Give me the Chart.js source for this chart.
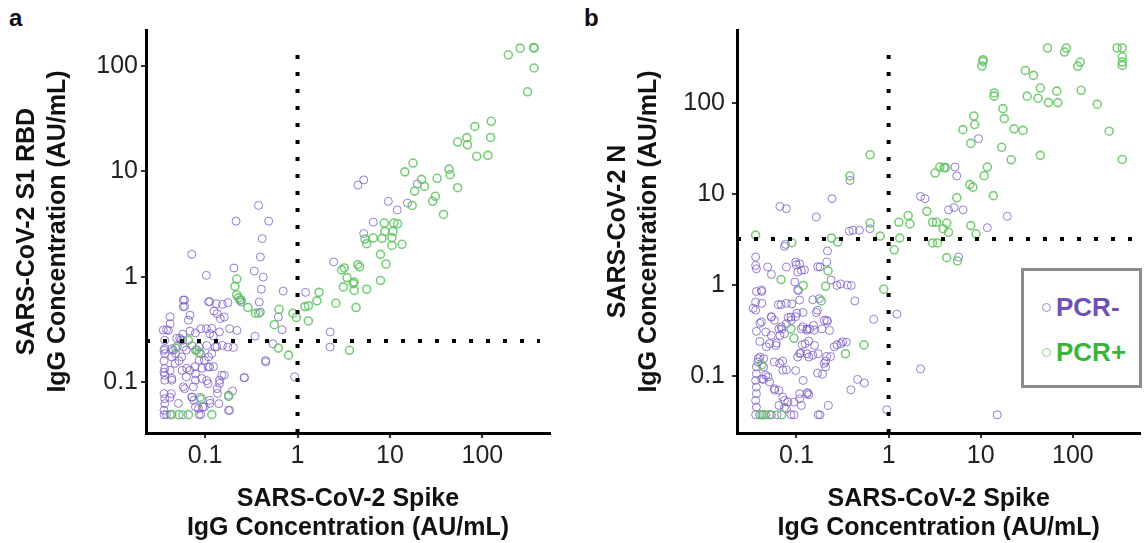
<!DOCTYPE html>
<html>
<head>
<meta charset="utf-8">
<script src="https://cdn.jsdelivr.net/npm/chart.js@4.4.1/dist/chart.umd.min.js"></script>
<style>
  body { margin: 0; background: #fff; width: 1146px; height: 543px; position: relative; overflow: hidden;
         font-family: 'Liberation Sans', Arial, sans-serif; }
  .panel { position: absolute; top: 0; }
  .tag { position: absolute; top: 4px; font-weight: bold; font-size: 24px; line-height: 28px; color: #111; }
  #legend { position: absolute; left: 1021px; top: 268px; width: 115px; height: 114px; border: 3px solid #8c8c8c; background: #fff; }
  #legend .item { position: absolute; left: 18px; font-size: 26px; font-weight: bold; line-height: 30px; display: flex; align-items: center; }
  #legend .dot { display: inline-block; width: 7px; height: 7px; border-radius: 50%; border: 1.5px solid; margin-right: 5px; }
</style>
</head>
<body>
<div class="tag" style="left:9px">a</div>
<div class="tag" style="left:584px">b</div>
<canvas id="chartA" class="panel" style="left:0" width="573" height="543"></canvas>
<canvas id="chartB" class="panel" style="left:573px" width="573" height="543"></canvas>
<div id="legend">
  <div class="item" style="top:21px;color:#6f4fb8"><span class="dot" style="border-color:#9a86d4"></span>PCR-</div>
  <div class="item" style="top:66px;color:#3cb43c"><span class="dot" style="border-color:#86d486"></span>PCR+</div>
</div>
<script>
// tick values shared by both panels
const xTicks = [0.1, 1, 10, 100];
const yTicks = [0.1, 1, 10, 100];

// positivity cut-offs (dotted lines)
const spikeCut = 1;
const rbdCut = 0.245;
const nCut = 3.2;

// panel a: spike vs S1 RBD, PCR- and PCR+
const rbdNeg = [
  [0.0717,1.63],[0.103,1.03],[0.378,4.75],[0.487,3.37],[0.216,3.37],[0.414,2.3],[0.396,1.54],[0.34,1.13],
  [0.425,0.99],[0.406,0.76],[0.70,0.73],[0.205,1.21],[0.0599,0.60],[0.0599,0.52],[0.112,0.58],[0.132,0.555],
  [0.154,0.546],[0.176,0.567],[0.125,0.472],[0.135,0.446],[0.161,0.414],[0.184,0.321],[0.221,0.309],[0.237,0.60],
  [0.246,0.575],[0.385,0.575],[0.396,0.462],[0.62,0.414],[0.68,0.314],[0.346,0.272],[0.542,0.231],[0.453,0.155],
  [0.264,0.11],[0.198,0.0822],[0.202,0.213],[0.176,0.215],[0.154,0.223],[0.123,0.274],[0.112,0.288],[0.103,0.321],
  [0.143,0.299],[0.0898,0.321],[0.0785,0.292],[0.0686,0.304],[0.0573,0.285],[0.0548,0.252],[0.0573,0.249],[0.05,0.218],
  [0.0626,0.202],[0.0436,0.207],[0.0418,0.358],[0.0382,0.314],[0.040,0.309],[0.0365,0.249],[0.0365,0.207],[0.0365,0.186],
  [0.0359,0.159],[0.0365,0.134],[0.0359,0.124],[0.0365,0.116],[0.0365,0.104],[0.0359,0.0776],[0.0365,0.0695],[0.0365,0.0623],
  [0.0359,0.0538],[0.0359,0.049],[0.0382,0.049],[0.0418,0.049],[0.043,0.0776],[0.0418,0.129],[0.0436,0.104],[0.0478,0.186],
  [0.0523,0.159],[0.0563,0.129],[0.0599,0.0865],[0.0626,0.112],[0.0686,0.129],[0.0717,0.0721],[0.075,0.067],[0.0785,0.058],
  [0.0859,0.049],[0.0898,0.049],[0.094,0.058],[0.0785,0.104],[0.0785,0.12],[0.0859,0.161],[0.0982,0.161],[0.1075,0.139],
  [0.112,0.139],[0.118,0.186],[0.128,0.215],[0.135,0.0865],[0.143,0.104],[0.151,0.116],[0.161,0.116],[0.1075,0.0965],
  [0.098,0.058],[0.112,0.067],[0.141,0.0623],[0.179,0.0538],[0.184,0.0538],[0.081,0.202],[0.0859,0.215],[0.0898,0.186],
  [0.0573,0.0487],[0.93,0.112],[1.22,0.71],[2.25,0.299],[2.25,0.215],[2.46,1.38],[9.6,5.2],[12,4.3],
  [15.5,5.0],[19.8,7.6],[4.5,7.4],[5.2,8.3],[6.6,3.3],[5.2,2.57],
  [0.0417,0.416],[0.0352,0.311],[0.058,0.6],[0.058,0.518],[0.0687,0.431],[0.066,0.387],[0.109,0.578],[0.146,0.40],
  [0.118,0.323],[0.0492,0.26],[0.053,0.26],[0.0358,0.2],[0.0452,0.2],[0.058,0.216],[0.072,0.222],[0.104,0.222],
  [0.134,0.216],[0.109,0.173],[0.123,0.14],[0.0435,0.173],[0.0557,0.173],[0.0472,0.15],[0.0632,0.135],[0.078,0.14],
  [0.092,0.135],[0.0435,0.108],[0.058,0.09],[0.0746,0.09],[0.092,0.108],[0.104,0.103],[0.143,0.097],[0.136,0.078],
  [0.088,0.0715],[0.072,0.0715],[0.0513,0.0627],[0.0417,0.0715],[0.113,0.0627],[0.0846,0.056],[0.267,0.11],[0.45,0.16],
  [0.179,0.075]
];
const rbdPos = [
  [191,128],[257,148],[363,148],[360,150],[363,96],[309,57],[83,26.7],[125,29.9],[68,20.9],[54,19],[69,17.9],
  [123,21],[87,13.9],[115,14.2],[14.5,9.9],[17.8,12],[22,8.4],[18.5,6.5],[23.7,7.2],[32.4,8.6],[43.6,10.5],
  [44.7,9.3],[54,7.0],[31,5.8],[29,5.2],[38,3.9],[17.4,4.75],[8.66,3.23],[11,3.23],[8.8,2.69],[10.8,2.69],
  [12.1,3.18],[8.2,2.31],[10.5,2.35],[13.5,2.03],[10.5,1.98],[7.9,1.63],[9.06,1.32],[7.9,0.92],[5.37,2.28],
  [6.6,2.33],[5.6,2.06],[3.2,1.21],[4.49,1.30],[4.7,1.24],[3.0,1.16],[3.43,0.98],[3.13,0.80],[4.1,0.89],
  [4.0,0.86],[4.1,0.74],[5.6,0.76],[2.6,0.56],[4.3,0.51],[1.71,0.71],[1.62,0.59],[1.31,0.53],[1.2,0.52],
  [0.89,0.45],[0.97,0.41],[1.31,0.38],[3.65,0.2],[0.8,0.18],[0.62,0.21],[0.56,0.35],[0.63,0.49],[0.38,0.45],
  [0.35,0.45],[0.29,0.51],[0.23,0.63],[0.22,0.95],[0.21,0.81],[0.22,0.67],[0.245,0.6],[0.048,0.21],[0.066,0.25],
  [0.086,0.19],[0.079,0.2],[0.18,0.073],[0.091,0.069],[0.052,0.049],[0.066,0.049],[0.118,0.049],[0.0436,0.049]
];

// panel b: spike vs N, PCR- and PCR+
const nNeg = [
  [0.0661,7.3],[0.0777,6.9],[0.074,2.66],[0.076,2.8],[0.164,5.6],[0.243,8.9],[0.381,14.1],[0.374,3.9],
  [0.41,4.0],[0.482,4.0],[0.626,4.16],[2.22,9.4],[2.48,8.9],[5.25,19.8],[5.49,15.8],[4.47,6.7],
  [5.14,7.1],[6.44,6.7],[9.45,40.6],[11.8,4.27],[19.4,5.7],[5.76,2.03],[0.217,2.37],[0.213,1.79],
  [0.180,1.58],[0.098,1.79],[0.108,1.71],[0.0777,1.58],[0.0486,1.58],[0.036,2.03],[0.036,1.64],[0.0367,1.51],
  [0.0534,1.31],[0.103,1.39],[0.113,1.45],[0.122,1.47],[0.096,1.08],[0.103,0.89],[0.0367,0.85],[0.042,0.85],
  [0.036,0.65],[0.042,0.63],[0.036,0.53],[0.068,0.61],[0.0634,0.61],[0.0777,0.63],[0.089,0.62],[0.105,0.87],
  [0.15,0.69],[0.177,0.71],[0.164,0.50],[0.169,0.53],[0.275,0.99],[0.302,1.03],[0.393,0.99],[0.43,0.67],
  [1.23,0.48],[0.688,0.42],[0.217,0.40],[0.347,0.236],[0.275,0.221],[0.235,0.164],[0.207,0.146],[0.207,0.126],
  [0.169,0.108],[0.46,0.092],[0.545,0.084],[0.389,0.0708],[2.22,0.12],[0.954,0.0427],[15.1,0.0376],[0.222,0.0476],
  [0.180,0.0376],[0.172,0.0376],[0.130,0.064],[0.136,0.0624],[0.108,0.0564],[0.113,0.0476],[0.094,0.0518],[0.0777,0.0438],
  [0.074,0.0449],[0.0644,0.0476],[0.094,0.0376],[0.087,0.0376],[0.0615,0.0376],[0.0534,0.0376],[0.0464,0.0376],[0.042,0.0376],
  [0.036,0.0376],[0.0367,0.0457],[0.036,0.054],[0.0367,0.064],[0.0367,0.0757],[0.036,0.0896],[0.0367,0.106],[0.0367,0.126],
  [0.038,0.143],[0.0385,0.155],[0.040,0.162],[0.044,0.155],[0.044,0.126],[0.0464,0.102],[0.051,0.086],[0.0575,0.0726],
  [0.0644,0.0696],[0.0707,0.0589],[0.074,0.054],[0.042,0.093],[0.044,0.092],[0.0575,0.143],[0.0707,0.146],[0.0777,0.117],
  [0.098,0.115],[0.103,0.162],[0.118,0.0896],[0.136,0.162],[0.130,0.176],[0.111,0.179],[0.115,0.221],[0.172,0.176],
  [0.213,0.164],[0.302,0.227],[0.136,0.243],[0.124,0.227],[0.157,0.217],[0.0464,0.305],[0.040,0.24],[0.051,0.227],
  [0.0597,0.217],[0.074,0.292],[0.0644,0.33],[0.0575,0.41],[0.0534,0.445],[0.040,0.38],[0.0367,0.31],[0.0695,0.33],
  [0.0777,0.376],[0.0813,0.44],[0.087,0.445],[0.098,0.45],[0.101,0.49],[0.118,0.50],[0.130,0.33],[0.139,0.33],
  [0.153,0.36],[0.189,0.33],[0.213,0.41],[0.228,0.318],[0.113,0.33],[0.130,0.318],
  [0.0416,0.88],[0.0338,0.555],[0.0416,0.395],[0.0533,0.45],[0.0684,0.348],[0.066,0.28],[0.0533,0.28],[0.047,0.21],
  [0.0604,0.23],[0.0877,0.41],[0.117,0.348],[0.156,0.32],[0.108,0.177],[0.15,0.17],[0.0656,0.138],[0.071,0.116],
  [0.049,0.098],[0.058,0.07],[0.0806,0.052],[0.108,0.064],[0.132,0.066],[0.2,0.138],[0.192,0.105],[0.316,0.238],
  [0.257,0.21],[0.2,0.41],[0.237,1.135],[0.357,1.0],[0.17,1.59],[0.0993,1.67],[0.108,0.684]
];
const nPos = [
  [53,402],[81,363],[85,402],[302,402],[344,402],[344,320],[344,282],[344,259],[120,282],[113,253],
  [10.6,299],[10.6,287],[10.3,255],[30.5,228],[37.4,201],[44.3,146],[31.9,119],[41.9,113],[54.4,101],[66.8,135],
  [68.7,101],[123,138],[184,97],[248,49],[344,24],[44.3,26.6],[14,129],[14,119],[17.4,86.7],[18,67.3],
  [23,52],[28.8,50],[8.4,72],[8.6,58],[6.4,51],[7.8,36],[16.9,32.6],[21.4,23.8],[10.9,15.9],[11.8,19.8],
  [13.7,9.6],[7.6,12.7],[8.2,11.9],[5.5,9.1],[3.6,19.8],[4.0,19.5],[4.15,19.5],[3.2,17],[2.6,6.45],[1.63,5.8],
  [1.7,4.7],[1.29,4.9],[3.0,4.9],[3.3,4.9],[4.27,4.8],[3.9,4.16],[4.47,3.8],[7.8,4.5],[8.9,3.66],[3.0,2.9],
  [3.4,2.9],[4.27,2.0],[5.6,1.84],[0.63,27],[0.38,15.8],[0.63,4.8],[0.81,3.45],[1.15,2.44],[1.32,3.28],[0.24,3.28],
  [0.28,2.97],[0.089,2.92],[0.036,3.54],[0.068,1.15],[0.118,0.99],[0.207,0.97],[0.22,1.43],[0.186,0.67],[0.885,0.9],[0.094,0.26],
  [0.34,0.176],[0.54,0.22],[0.042,0.133],[0.087,0.33],[0.040,0.0376],[0.051,0.0376],[0.069,0.0376],[0.044,0.0376]
];

Chart.defaults.font.family = "'Liberation Sans', Arial, sans-serif";
Chart.defaults.color = '#222';

function toXY(list) {
  return list.map(p => ({ x: p[0], y: p[1] }));
}

function makePanel(id, cfg) {
  const dotted = {
    type: 'line', borderColor: '#000', borderWidth: 4, borderDash: [4, 13],
    pointRadius: 0, fill: false, showLine: true, order: 0
  };
  new Chart(document.getElementById(id), {
    type: 'scatter',
    data: {
      datasets: [
        Object.assign({}, dotted, { data: [{ x: spikeCut, y: cfg.yMin }, { x: spikeCut, y: cfg.vTop }] }),
        Object.assign({}, dotted, { data: [{ x: cfg.xMin, y: cfg.cut }, { x: cfg.hEnd, y: cfg.cut }] }),
        {
          label: 'PCR+', data: toXY(cfg.pos), order: 1,
          pointRadius: 4, borderWidth: 1.6, borderColor: 'rgba(96,196,96,0.85)', backgroundColor: 'transparent'
        },
        {
          label: 'PCR-', data: toXY(cfg.neg), order: 2,
          pointRadius: 4, borderWidth: 1, borderColor: 'rgba(120,92,198,0.8)', backgroundColor: 'transparent'
        }
      ]
    },
    options: {
      responsive: false,
      animation: false,
      events: [],
      layout: { padding: { left: 0, right: cfg.padRight, top: 30, bottom: 0 } },
      plugins: { legend: { display: false }, tooltip: { enabled: false } },
      scales: {
        x: {
          type: 'logarithmic', min: cfg.xMin, max: cfg.xMax,
          afterBuildTicks: s => { s.ticks = xTicks.map(v => ({ value: v })); },
          afterFit: s => { s.height = 110; },
          grid: { drawOnChartArea: false, drawTicks: true, tickLength: 5, color: '#333', lineWidth: 2 },
          border: { display: true, color: '#000', width: 3 },
          ticks: { callback: v => String(v), autoSkip: false, maxRotation: 0, padding: 3, font: { size: 25 }, color: '#222' },
          title: {
            display: true, text: ['SARS-CoV-2 Spike', 'IgG Concentration (AU/mL)'],
            font: { size: 25, weight: 'bold', lineHeight: 1.15 }, color: '#111', padding: { top: 0, bottom: 1 }
          }
        },
        y: {
          type: 'logarithmic', min: cfg.yMin, max: cfg.yMax,
          afterBuildTicks: s => { s.ticks = yTicks.map(v => ({ value: v })); },
          afterFit: s => { s.width = cfg.yWidth; },
          grid: { drawOnChartArea: false, drawTicks: true, tickLength: 5, color: '#333', lineWidth: 2 },
          border: { display: true, color: '#000', width: 3 },
          ticks: { callback: v => String(v), autoSkip: false, padding: cfg.tickPad, font: { size: 25 }, color: '#222' },
          title: {
            display: true, text: cfg.yTitle,
            font: { size: 25, weight: 'bold', lineHeight: 1.25 }, color: '#111', padding: { top: cfg.titlePad, bottom: 0 }
          }
        }
      }
    }
  });
}

makePanel('chartA', {
  neg: rbdNeg, pos: rbdPos, cut: rbdCut,
  xMin: 0.0229, xMax: 540, yMin: 0.0328, yMax: 220, vTop: 169, hEnd: 420,
  yWidth: 146, padRight: 23, tickPad: 3, titlePad: 11,
  yTitle: ['SARS-CoV-2 S1 RBD', 'IgG Concentration (AU/mL)']
});

makePanel('chartB', {
  neg: nNeg, pos: nPos, cut: nCut,
  xMin: 0.0226, xMax: 541, yMin: 0.0237, yMax: 634, vTop: 468, hEnd: 541,
  yWidth: 164, padRight: 3, tickPad: 7, titlePad: 29,
  yTitle: ['SARS-CoV-2 N', 'IgG Concentration (AU/mL)']
});
</script>
</body>
</html>
